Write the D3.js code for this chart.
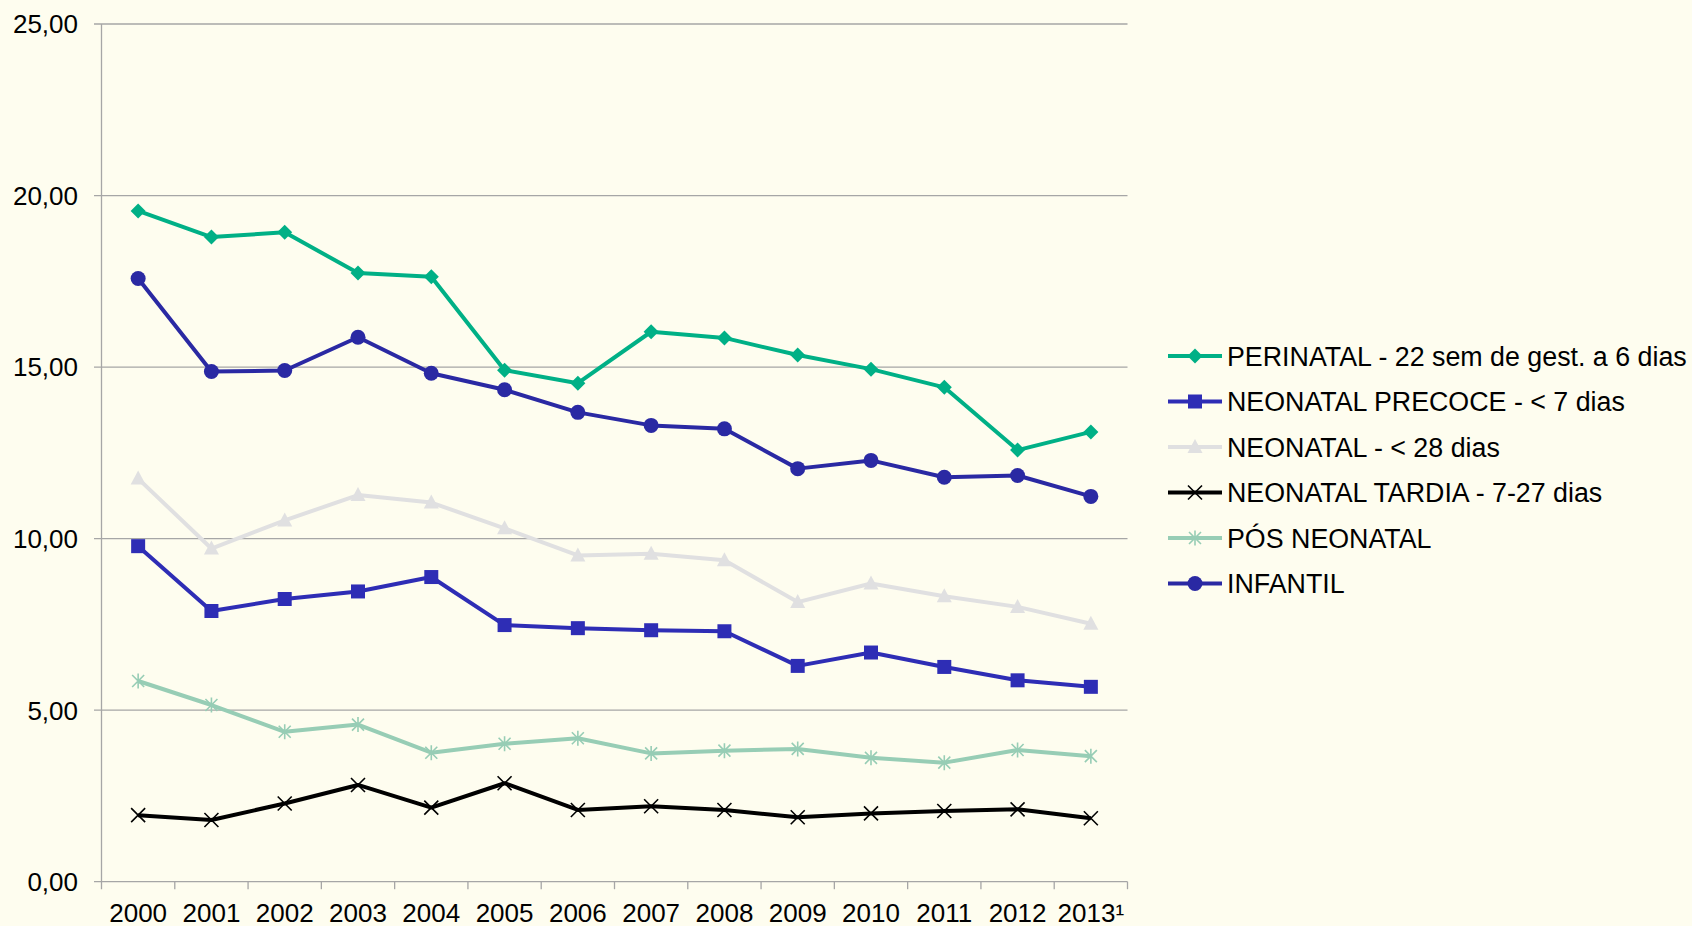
<html>
<head>
<meta charset="utf-8">
<title>Mortalidade</title>
<script src="https://d3js.org/d3.v7.min.js"></script>
<style>
	body { margin: 0; background: #fefdef; }
	svg { display: block; font-family: "Liberation Sans", Arial, sans-serif; }
	.grid line { stroke: #a6a6a6; stroke-width: 1.3; }
	.lbl { font-size: 26px; fill: #000; }
	.leglbl { font-size: 26.8px; fill: #000; }
</style>
</head>
<body>
<svg id="chart" width="1692" height="926"></svg>
<script>
// data
var years = ["2000","2001","2002","2003","2004","2005","2006","2007","2008","2009","2010","2011","2012","2013¹"];
var perinatal = [19.55, 18.79, 18.93, 17.74, 17.63, 14.91, 14.53, 16.03, 15.85, 15.35, 14.94, 14.41, 12.58, 13.11];
var precoce   = [9.78, 7.89, 8.24, 8.46, 8.88, 7.48, 7.39, 7.33, 7.30, 6.29, 6.68, 6.26, 5.87, 5.68];
var neonatal  = [11.75, 9.71, 10.53, 11.27, 11.05, 10.30, 9.51, 9.56, 9.37, 8.15, 8.69, 8.32, 8.01, 7.52];
var tardia    = [1.94, 1.80, 2.28, 2.82, 2.16, 2.87, 2.09, 2.20, 2.09, 1.88, 1.99, 2.06, 2.11, 1.85];
var posNeo    = [5.85, 5.15, 4.37, 4.58, 3.76, 4.02, 4.18, 3.74, 3.82, 3.87, 3.61, 3.47, 3.84, 3.66];
var infantil  = [17.58, 14.87, 14.90, 15.87, 14.82, 14.34, 13.68, 13.30, 13.20, 12.04, 12.28, 11.79, 11.84, 11.23];
var yTicks = [0, 5, 10, 15, 20, 25];

var series = [
	{name: "PERINATAL - 22 sem de gest. a 6 dias", values: perinatal, color: "#00b086", marker: "diamond"},
	{name: "NEONATAL PRECOCE - < 7 dias", values: precoce, color: "#2e2db5", marker: "square"},
	{name: "NEONATAL - < 28 dias", values: neonatal, color: "#e0e0e1", marker: "triangle"},
	{name: "NEONATAL TARDIA - 7-27 dias", values: tardia, color: "#000000", marker: "x"},
	{name: "PÓS NEONATAL", values: posNeo, color: "#97cdb5", marker: "star"},
	{name: "INFANTIL", values: infantil, color: "#2a29a3", marker: "circle"}
];

var svg = d3.select("#chart");
var plotLeft = 101.5, plotRight = 1127.5, plotTop = 24, plotBottom = 881.7;

var x = d3.scaleBand().domain(years).range([plotLeft, plotRight]).padding(0);
var y = d3.scaleLinear().domain([0, 25]).range([plotBottom, plotTop]);
var fmt = function(v) { return d3.format(".2f")(v).replace(".", ","); };

// gridlines
var grid = svg.append("g").attr("class", "grid");
grid.selectAll("line.h").data(yTicks).enter().append("line")
	.attr("x1", plotLeft - 7.5).attr("x2", plotRight)
	.attr("y1", function(d) { return y(d); }).attr("y2", function(d) { return y(d); });
grid.append("line").attr("x1", plotLeft).attr("x2", plotLeft).attr("y1", plotTop).attr("y2", plotBottom + 7.5);
// x ticks at band edges
var edges = years.map(function(d) { return x(d); }).concat([plotRight]);
grid.selectAll("line.t").data(edges.slice(1)).enter().append("line")
	.attr("x1", function(d) { return d; }).attr("x2", function(d) { return d; })
	.attr("y1", plotBottom).attr("y2", plotBottom + 7.5);

// axis labels
svg.selectAll("text.ylab").data(yTicks).enter().append("text")
	.attr("class", "lbl").attr("text-anchor", "end")
	.attr("x", 78).attr("y", function(d) { return y(d); }).attr("dy", "0.36em")
	.text(fmt);
svg.selectAll("text.xlab").data(years).enter().append("text")
	.attr("class", "lbl").attr("text-anchor", "middle")
	.attr("x", function(d) { return x(d) + x.bandwidth() / 2; }).attr("y", 922)
	.text(function(d) { return d; });

function markerPath(type) {
	var p = d3.path();
	if (type == "diamond") { p.moveTo(0,-7.5); p.lineTo(7.5,0); p.lineTo(0,7.5); p.lineTo(-7.5,0); p.closePath(); }
	else if (type == "square") { p.rect(-7, -7, 14, 14); }
	else if (type == "triangle") { p.moveTo(0,-8); p.lineTo(7.5,6); p.lineTo(-7.5,6); p.closePath(); }
	else if (type == "circle") { p.arc(0, 0, 7.5, 0, 2 * Math.PI); }
	else if (type == "x") { p.moveTo(-7,-7); p.lineTo(7,7); p.moveTo(-7,7); p.lineTo(7,-7); }
	else if (type == "star") { p.moveTo(-6,-6); p.lineTo(6,6); p.moveTo(-6,6); p.lineTo(6,-6); p.moveTo(0,-7.5); p.lineTo(0,7.5); }
	return p.toString();
}
function drawMarker(g, type, color) {
	var open = (type == "x" || type == "star");
	g.append("path").attr("d", markerPath(type))
		.attr("fill", open ? "none" : color)
		.attr("stroke", color)
		.attr("stroke-width", open ? 1.6 : 0);
}

var line = d3.line()
	.x(function(d, i) { return x(years[i]) + x.bandwidth() / 2; })
	.y(function(d) { return y(d); });

series.forEach(function(s) {
	var g = svg.append("g");
	g.append("path").datum(s.values).attr("d", line)
		.attr("fill", "none").attr("stroke", s.color).attr("stroke-width", 4)
		.attr("stroke-linejoin", "round");
	s.values.forEach(function(v, i) {
		var m = g.append("g").attr("transform", "translate(" + (x(years[i]) + x.bandwidth() / 2) + "," + y(v) + ")");
		drawMarker(m, s.marker, s.color);
	});
});

// legend
var leg = svg.append("g");
series.forEach(function(s, i) {
	var ly = 356 + i * 45.5;
	leg.append("line").attr("x1", 1168).attr("x2", 1222).attr("y1", ly).attr("y2", ly)
		.attr("stroke", s.color).attr("stroke-width", 4);
	var m = leg.append("g").attr("transform", "translate(1195," + ly + ")");
	drawMarker(m, s.marker, s.color);
	leg.append("text").attr("class", "leglbl").attr("x", 1227).attr("y", ly).attr("dy", "0.36em").text(s.name);
});
</script>
</body>
</html>
